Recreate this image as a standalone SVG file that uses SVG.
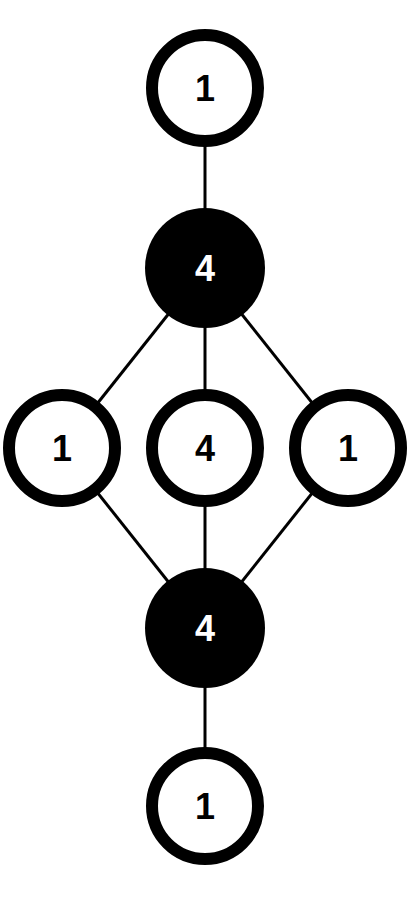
<svg xmlns="http://www.w3.org/2000/svg" width="414" height="900" viewBox="0 0 414 900">
<style>
.ring{fill:#fff;stroke:#000;stroke-width:12}
.dot{fill:#000}
.edge{stroke:#000;stroke-width:3;fill:none}
</style>
<rect width="414" height="900" fill="#fff"/>
<g id="connectors">
<line class="edge" x1="205" y1="88" x2="205" y2="268"/>
<line class="edge" x1="205" y1="268" x2="62" y2="448"/>
<line class="edge" x1="205" y1="268" x2="205" y2="448"/>
<line class="edge" x1="205" y1="268" x2="348" y2="448"/>
<line class="edge" x1="62" y1="448" x2="205" y2="628"/>
<line class="edge" x1="205" y1="448" x2="205" y2="628"/>
<line class="edge" x1="348" y1="448" x2="205" y2="628"/>
<line class="edge" x1="205" y1="628" x2="205" y2="806"/>
</g>
<g font-family="'Liberation Sans', Arial, Helvetica, sans-serif" font-weight="700" font-size="36" text-anchor="middle">
<g id="n1"><circle class="ring" cx="205" cy="88" r="53"/><text x="205" y="101" fill="#000">1</text></g>
<g id="n2"><circle class="dot" cx="205" cy="268" r="60"/><text x="205" y="281" fill="#fff">4</text></g>
<g id="n3"><circle class="ring" cx="62" cy="448" r="53"/><text x="62" y="461" fill="#000">1</text></g>
<g id="n4"><circle class="ring" cx="205" cy="448" r="53"/><text x="205" y="461" fill="#000">4</text></g>
<g id="n5"><circle class="ring" cx="348" cy="448" r="53"/><text x="348" y="461" fill="#000">1</text></g>
<g id="n6"><circle class="dot" cx="205" cy="628" r="60"/><text x="205" y="641" fill="#fff">4</text></g>
<g id="n7"><circle class="ring" cx="205" cy="806" r="53"/><text x="205" y="819" fill="#000">1</text></g>
</g>
</svg>
